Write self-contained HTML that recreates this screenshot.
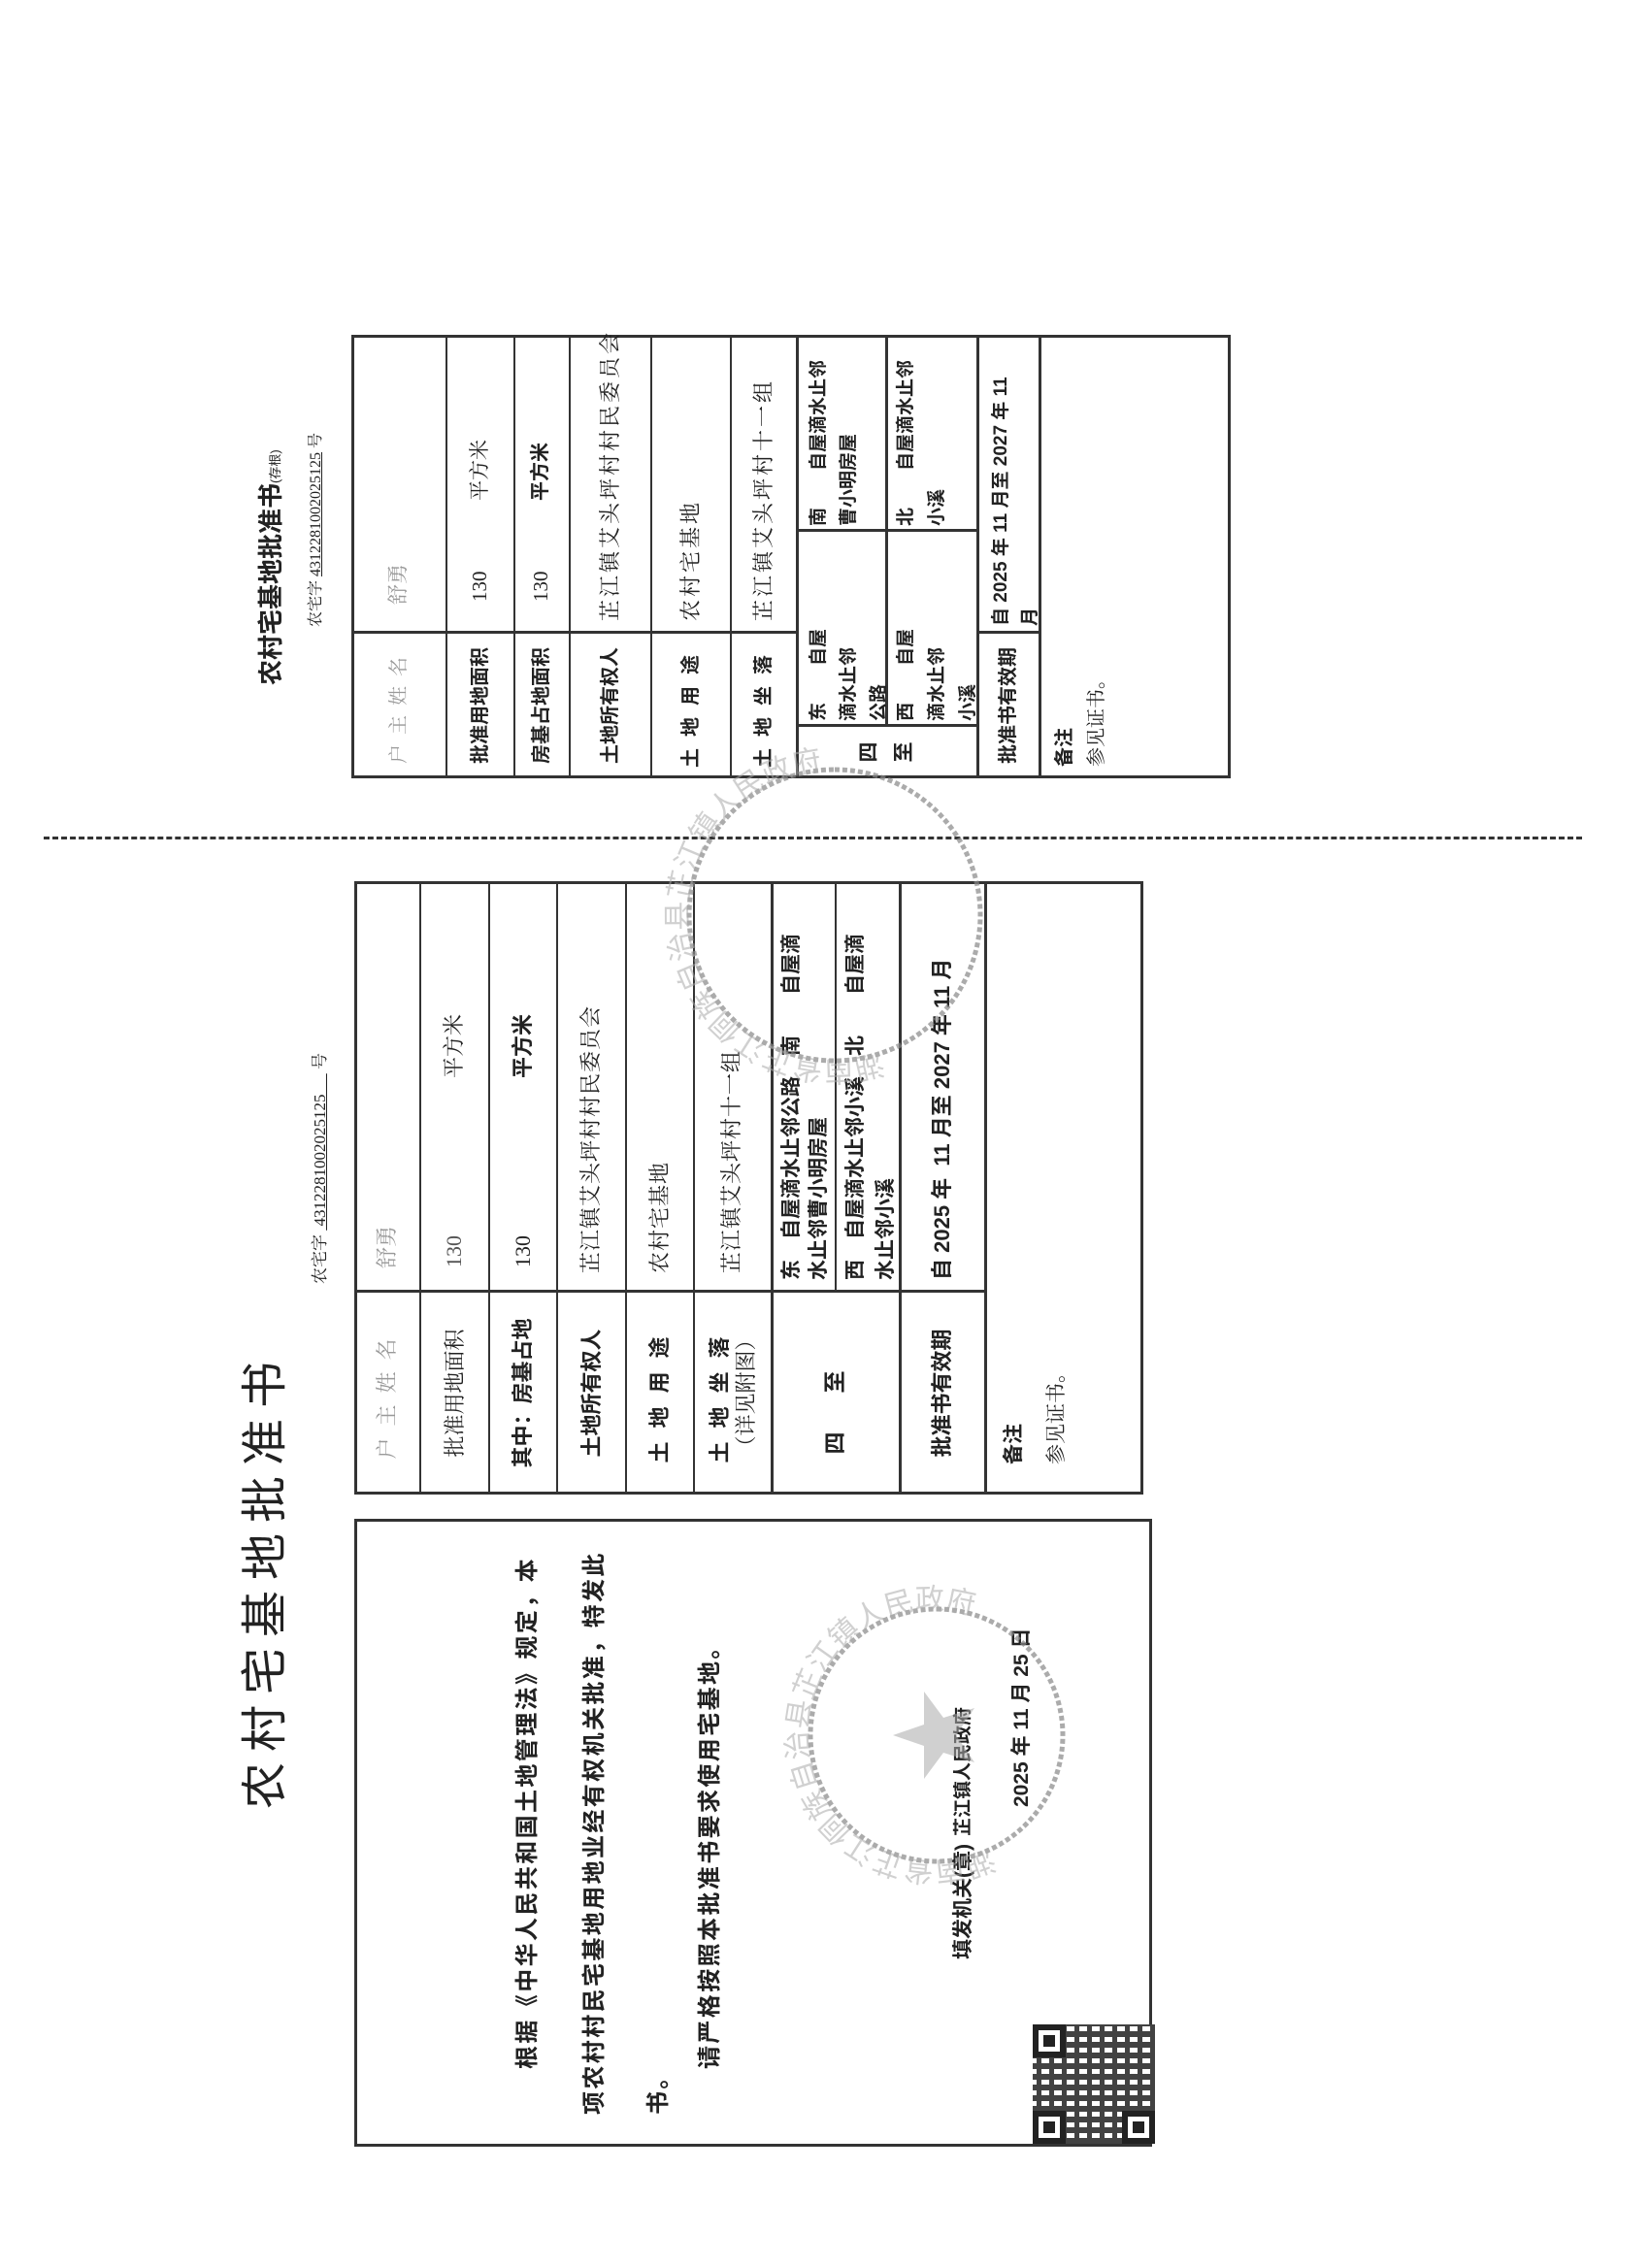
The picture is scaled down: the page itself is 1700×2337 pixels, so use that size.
<!DOCTYPE html>
<html><head><meta charset="utf-8">
<style>
html,body{margin:0;padding:0;background:#fff;}
body{width:1700px;height:2337px;position:relative;overflow:hidden;}
.doc{position:absolute;left:0;top:0;width:2337px;height:1700px;transform-origin:0 0;transform:translate(0,2337px) rotate(-90deg);
font-family:"Liberation Serif","Noto Serif CJK SC",serif;color:#222;}
.ln{position:absolute;background:#333;}
.box{position:absolute;border:3px solid #333;box-sizing:border-box;}
.t{position:absolute;white-space:nowrap;line-height:1;}
.c{position:absolute;display:flex;align-items:center;justify-content:center;text-align:center;line-height:1.35;}
.b{font-family:"Liberation Sans","Noto Sans CJK SC",sans-serif;font-weight:bold;}
.s{font-family:"Liberation Sans","Noto Sans CJK SC",sans-serif;}
.g{color:#999;}
</style></head><body>
<div class="doc">

<div style="position:absolute;left:1472px;top:45px;height:1585px;border-left:3px dashed #333;"></div>

<!-- ===== STUB ===== -->
<div class="t b" style="left:1631px;top:266px;font-size:26px;">农村宅基地批准书<span style="font-size:13px;font-weight:normal;">(存根)</span></div>
<div class="t" style="left:1691px;top:318px;font-size:16px;">农宅字 <span style="text-decoration:underline;">4312281002025125</span> 号</div>

<div class="box" style="left:1535px;top:362px;width:457px;height:906px;"></div>
<div class="ln" style="left:1535px;top:459px;width:457px;height:2px;"></div>
<div class="ln" style="left:1535px;top:529px;width:457px;height:2px;"></div>
<div class="ln" style="left:1535px;top:586px;width:457px;height:2px;"></div>
<div class="ln" style="left:1535px;top:670px;width:457px;height:2px;"></div>
<div class="ln" style="left:1535px;top:752px;width:457px;height:2px;"></div>
<div class="ln" style="left:1535px;top:820px;width:457px;height:3px;"></div>
<div class="ln" style="left:1535px;top:1006px;width:457px;height:3px;"></div>
<div class="ln" style="left:1535px;top:1070px;width:457px;height:3px;"></div>
<div class="ln" style="left:1684px;top:362px;width:3px;height:459px;"></div>
<div class="ln" style="left:1684px;top:1007px;width:3px;height:64px;"></div>
<div class="ln" style="left:1588px;top:821px;width:3px;height:186px;"></div>
<div class="ln" style="left:1789px;top:821px;width:3px;height:186px;"></div>
<div class="ln" style="left:1589px;top:912px;width:403px;height:3px;"></div>

<div class="c g" style="left:1535px;top:362px;width:150px;height:98px;font-size:20px;letter-spacing:10px;">户主姓名</div>
<div class="c b" style="left:1535px;top:460px;width:150px;height:70px;font-size:20px;">批准用地面积</div>
<div class="c b" style="left:1535px;top:530px;width:150px;height:57px;font-size:20px;">房基占地面积</div>
<div class="c b" style="left:1535px;top:587px;width:150px;height:84px;font-size:20px;">土地所有权人</div>
<div class="c b" style="left:1535px;top:671px;width:150px;height:82px;font-size:20px;letter-spacing:12px;">土地用途</div>
<div class="c b" style="left:1535px;top:753px;width:150px;height:68px;font-size:20px;letter-spacing:12px;">土地坐落</div>
<div class="c b" style="left:1535px;top:821px;width:54px;height:186px;font-size:21px;line-height:1.7;">四<br>至</div>
<div class="c b" style="left:1535px;top:1007px;width:150px;height:64px;font-size:20px;">批准书有效期</div>

<div class="t g" style="left:1714px;top:400px;font-size:21px;">舒勇</div>
<div class="t" style="left:1717px;top:484px;font-size:21px;">130</div>
<div class="t" style="left:1821px;top:484px;font-size:21px;">平方米</div>
<div class="t" style="left:1717px;top:547px;font-size:21px;">130</div>
<div class="t b" style="left:1821px;top:547px;font-size:20px;">平方米</div>
<div class="t" style="left:1697px;top:618px;font-size:22px;letter-spacing:3px;">芷江镇艾头坪村村民委员会</div>
<div class="t" style="left:1697px;top:701px;font-size:22px;letter-spacing:3px;">农村宅基地</div>
<div class="t" style="left:1697px;top:776px;font-size:22px;letter-spacing:3px;">芷江镇艾头坪村十一组</div>

<div class="t b" style="left:1594px;top:828px;font-size:19px;line-height:31px;">东　　自屋<br>滴水止邻<br>公路</div>
<div class="t b" style="left:1795px;top:828px;font-size:19px;line-height:31px;">南　　自屋滴水止邻<br>曹小明房屋</div>
<div class="t b" style="left:1594px;top:918px;font-size:19px;line-height:32px;">西　　自屋<br>滴水止邻<br>小溪</div>
<div class="t b" style="left:1795px;top:918px;font-size:19px;line-height:32px;">北　　自屋滴水止邻<br>小溪</div>
<div class="t b" style="left:1692px;top:1017px;font-size:19px;line-height:30px;">自 2025 年 11 月至 2027 年 11<br>月</div>
<div class="t b" style="left:1547px;top:1087px;font-size:20px;">备注</div>
<div class="t" style="left:1547px;top:1120px;font-size:20px;">参见证书。</div>

<!-- ===== MAIN ===== -->
<div class="t s" style="left:473px;top:250px;font-size:48px;letter-spacing:11px;">农村宅基地批准书</div>
<div class="t" style="left:1014px;top:321px;font-size:17px;">农宅字 <span style="text-decoration:underline;">&nbsp;4312281002025125&nbsp;&nbsp;&nbsp;&nbsp;&nbsp;</span> 号</div>

<div class="box" style="left:797px;top:365px;width:632px;height:813px;"></div>
<div class="ln" style="left:797px;top:432px;width:632px;height:2px;"></div>
<div class="ln" style="left:797px;top:503px;width:632px;height:2px;"></div>
<div class="ln" style="left:797px;top:573px;width:632px;height:2px;"></div>
<div class="ln" style="left:797px;top:644px;width:632px;height:2px;"></div>
<div class="ln" style="left:797px;top:714px;width:632px;height:2px;"></div>
<div class="ln" style="left:797px;top:794px;width:632px;height:3px;"></div>
<div class="ln" style="left:797px;top:926px;width:632px;height:3px;"></div>
<div class="ln" style="left:797px;top:1014px;width:632px;height:3px;"></div>
<div class="ln" style="left:1005px;top:365px;width:3px;height:651px;"></div>
<div class="ln" style="left:1006px;top:860px;width:423px;height:2px;"></div>

<div class="c g" style="left:797px;top:365px;width:209px;height:68px;font-size:22px;letter-spacing:12px;">户主姓名</div>
<div class="c" style="left:797px;top:433px;width:209px;height:71px;font-size:22px;">批准用地面积</div>
<div class="c b" style="left:797px;top:504px;width:209px;height:70px;font-size:22px;">其中：房基占地</div>
<div class="c b" style="left:797px;top:574px;width:209px;height:71px;font-size:22px;">土地所有权人</div>
<div class="c b" style="left:797px;top:645px;width:209px;height:70px;font-size:22px;letter-spacing:14px;">土地用途</div>
<div class="c" style="left:797px;top:715px;width:209px;height:80px;font-size:22px;line-height:1.25;"><span><span class="b" style="letter-spacing:14px;">土地坐落</span><br>（详见附图）</span></div>
<div class="c b" style="left:797px;top:795px;width:209px;height:132px;font-size:23px;letter-spacing:40px;">四至</div>
<div class="c b" style="left:797px;top:927px;width:209px;height:88px;font-size:22px;">批准书有效期</div>

<div class="t g" style="left:1030px;top:388px;font-size:22px;">舒勇</div>
<div class="t" style="left:1031px;top:457px;font-size:22px;color:#555;">130</div>
<div class="t" style="left:1226px;top:457px;font-size:22px;">平方米</div>
<div class="t" style="left:1031px;top:528px;font-size:22px;">130</div>
<div class="t b" style="left:1226px;top:528px;font-size:22px;">平方米</div>
<div class="t" style="left:1025px;top:598px;font-size:22px;letter-spacing:1px;">芷江镇艾头坪村村民委员会</div>
<div class="t" style="left:1025px;top:669px;font-size:22px;letter-spacing:1px;">农村宅基地</div>
<div class="t" style="left:1025px;top:743px;font-size:22px;letter-spacing:1px;">芷江镇艾头坪村十一组</div>
<div class="t b" style="left:1018px;top:802px;font-size:21px;line-height:28px;">东　自屋滴水止邻公路　南　　自屋滴<br>水止邻曹小明房屋</div>
<div class="t b" style="left:1018px;top:866px;font-size:21px;line-height:31px;">西　自屋滴水止邻小溪　北　　自屋滴<br>水止邻小溪</div>
<div class="t b" style="left:1018px;top:960px;font-size:22px;">自 2025 年&nbsp; 11 月至 2027 年 11 月</div>
<div class="t b" style="left:828px;top:1034px;font-size:21px;">备注</div>
<div class="t" style="left:828px;top:1078px;font-size:21px;">参见证书。</div>

<!-- ===== LEFT BOX ===== -->
<div class="box" style="left:125px;top:365px;width:647px;height:822px;"></div>
<div class="t b" style="left:205px;top:532px;font-size:24px;letter-spacing:2.4px;">根据《中华人民共和国土地管理法》规定，本</div>
<div class="t b" style="left:158px;top:601px;font-size:24px;letter-spacing:2.4px;">项农村村民宅基地用地业经有权机关批准，特发此</div>
<div class="t b" style="left:158px;top:667px;font-size:24px;letter-spacing:2.4px;">书。</div>
<div class="t b" style="left:205px;top:720px;font-size:24px;letter-spacing:2.4px;">请严格按照本批准书要求使用宅基地。</div>
<div class="t b" style="left:318px;top:982px;font-size:21px;">填发机关(章)</div>
<div class="t b" style="left:445px;top:983px;font-size:19px;">芷江镇人民政府</div>
<div class="t b" style="left:475px;top:1042px;font-size:21px;">2025 年 11 月 25 日</div>

<!-- stamps -->
<svg style="position:absolute;left:0;top:0;" width="2337" height="1700">
 <defs>
  <path id="c1" d="M449,1045 A130,130 0 1,1 649,1045"/>
  <path id="c2" d="M1279,955 A150,150 0 1,1 1509,955"/>
 </defs>
 <g fill="none" stroke="#888" opacity="0.7">
  <circle cx="549" cy="965" r="130" stroke-width="5" stroke-dasharray="5 3"/>
  <circle cx="1394" cy="860" r="150" stroke-width="5" stroke-dasharray="5 3"/>
 </g>
 <polygon points="549,920 560,952 594,952 567,972 577,1004 549,985 521,1004 531,972 504,952 538,952" fill="#aaa" opacity="0.55"/>
 <g font-family="Noto Sans CJK SC, sans-serif" font-size="30" fill="#aaa" opacity="0.55">
  <text><textPath href="#c1" startOffset="5%">湖南省芷江侗族自治县芷江镇人民政府</textPath></text>
  <text><textPath href="#c2" startOffset="8%">湖南省芷江侗族自治县芷江镇人民政府</textPath></text>
 </g>
</svg>

<!-- QR -->
<div style="position:absolute;left:128px;top:1064px;width:123px;height:126px;background:#fff;">
 <div style="position:absolute;inset:0;background:repeating-linear-gradient(90deg,#222 0 6px,transparent 6px 11px),repeating-linear-gradient(0deg,#222 0 5px,#fff 5px 13px);opacity:.85;"></div>
 <div style="position:absolute;left:0;top:0;width:22px;height:22px;border:6px solid #222;background:#fff;"><div style="margin:5px;width:12px;height:12px;background:#222;"></div></div>
 <div style="position:absolute;right:0;top:0;width:22px;height:22px;border:6px solid #222;background:#fff;"><div style="margin:5px;width:12px;height:12px;background:#222;"></div></div>
 <div style="position:absolute;left:0;bottom:0;width:22px;height:22px;border:6px solid #222;background:#fff;"><div style="margin:5px;width:12px;height:12px;background:#222;"></div></div>
</div>

</div>
</body></html>
